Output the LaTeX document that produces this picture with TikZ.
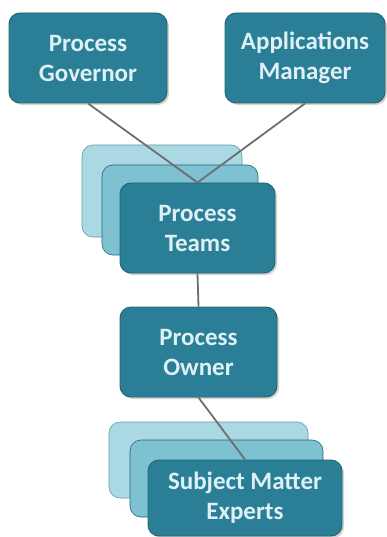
\documentclass[tikz,border=0pt]{standalone}
\usepackage{fontspec}
\setmainfont{Carlito}
\usepackage{tikz}
\usetikzlibrary{shadows}
\definecolor{tealdark}{HTML}{2A7F97}
\definecolor{tealedge}{HTML}{1F6375}
\definecolor{tealmid}{HTML}{7EC1D1}
\definecolor{teallight}{HTML}{AAD9E4}
\definecolor{tealtext}{HTML}{DDF0F5}
\definecolor{linkgray}{HTML}{6E6E6E}

\begin{document}
\begin{tikzpicture}[x=1pt,y=-1pt,
    role/.style={draw=tealedge, line width=0.9pt, fill=tealdark, rounded corners=11pt,
      text=tealtext, align=center, font=\fontsize{25}{30}\selectfont\bfseries,
      drop shadow={shadow xshift=2pt, shadow yshift=-2pt, opacity=.35, fill=gray}},
    cardback/.style={draw=tealmid!80!black, line width=0.6pt, fill=teallight, rounded corners=11pt},
    cardmid/.style={draw=tealdark!80!black, line width=0.6pt, fill=tealmid, rounded corners=11pt},
    link/.style={draw=linkgray, line width=1.8pt}]
            \useasboundingbox (0,0) rectangle (387,537);
            \node[role, minimum width=158pt, minimum height=90pt] (gov) at (88,58) {Process\\Governor};
            \node[role, minimum width=160pt, minimum height=90pt] (apps) at (305,58) {Applications\\Manager};
            \node[cardback, minimum width=160pt, minimum height=92pt] (teamsback) at (162,191) {};
            \node[cardmid, minimum width=156pt, minimum height=90pt] (teamsmid) at (180,210) {};
            \node[role, minimum width=155pt, minimum height=90pt] (teams) at (197.5,228) {Process\\Teams};
            \node[role, minimum width=157pt, minimum height=90pt] (owner) at (198.5,352) {Process\\Owner};
            \node[cardback, minimum width=199pt, minimum height=76pt] (smeback) at (208.5,460) {};
            \node[cardmid, minimum width=193pt, minimum height=77pt] (smemid) at (226.5,478.5) {};
            \node[role, minimum width=194pt, minimum height=76pt] (sme) at (245,498) {Subject Matter\\Experts};
            \draw[link] (gov.south) -- (teams.north);
            \draw[link] (apps.south) -- (teams.north);
            \draw[link] (teams.south) -- (owner.north);
            \draw[link] (owner.south) -- (sme.north);
        \end{tikzpicture}
\end{document}
